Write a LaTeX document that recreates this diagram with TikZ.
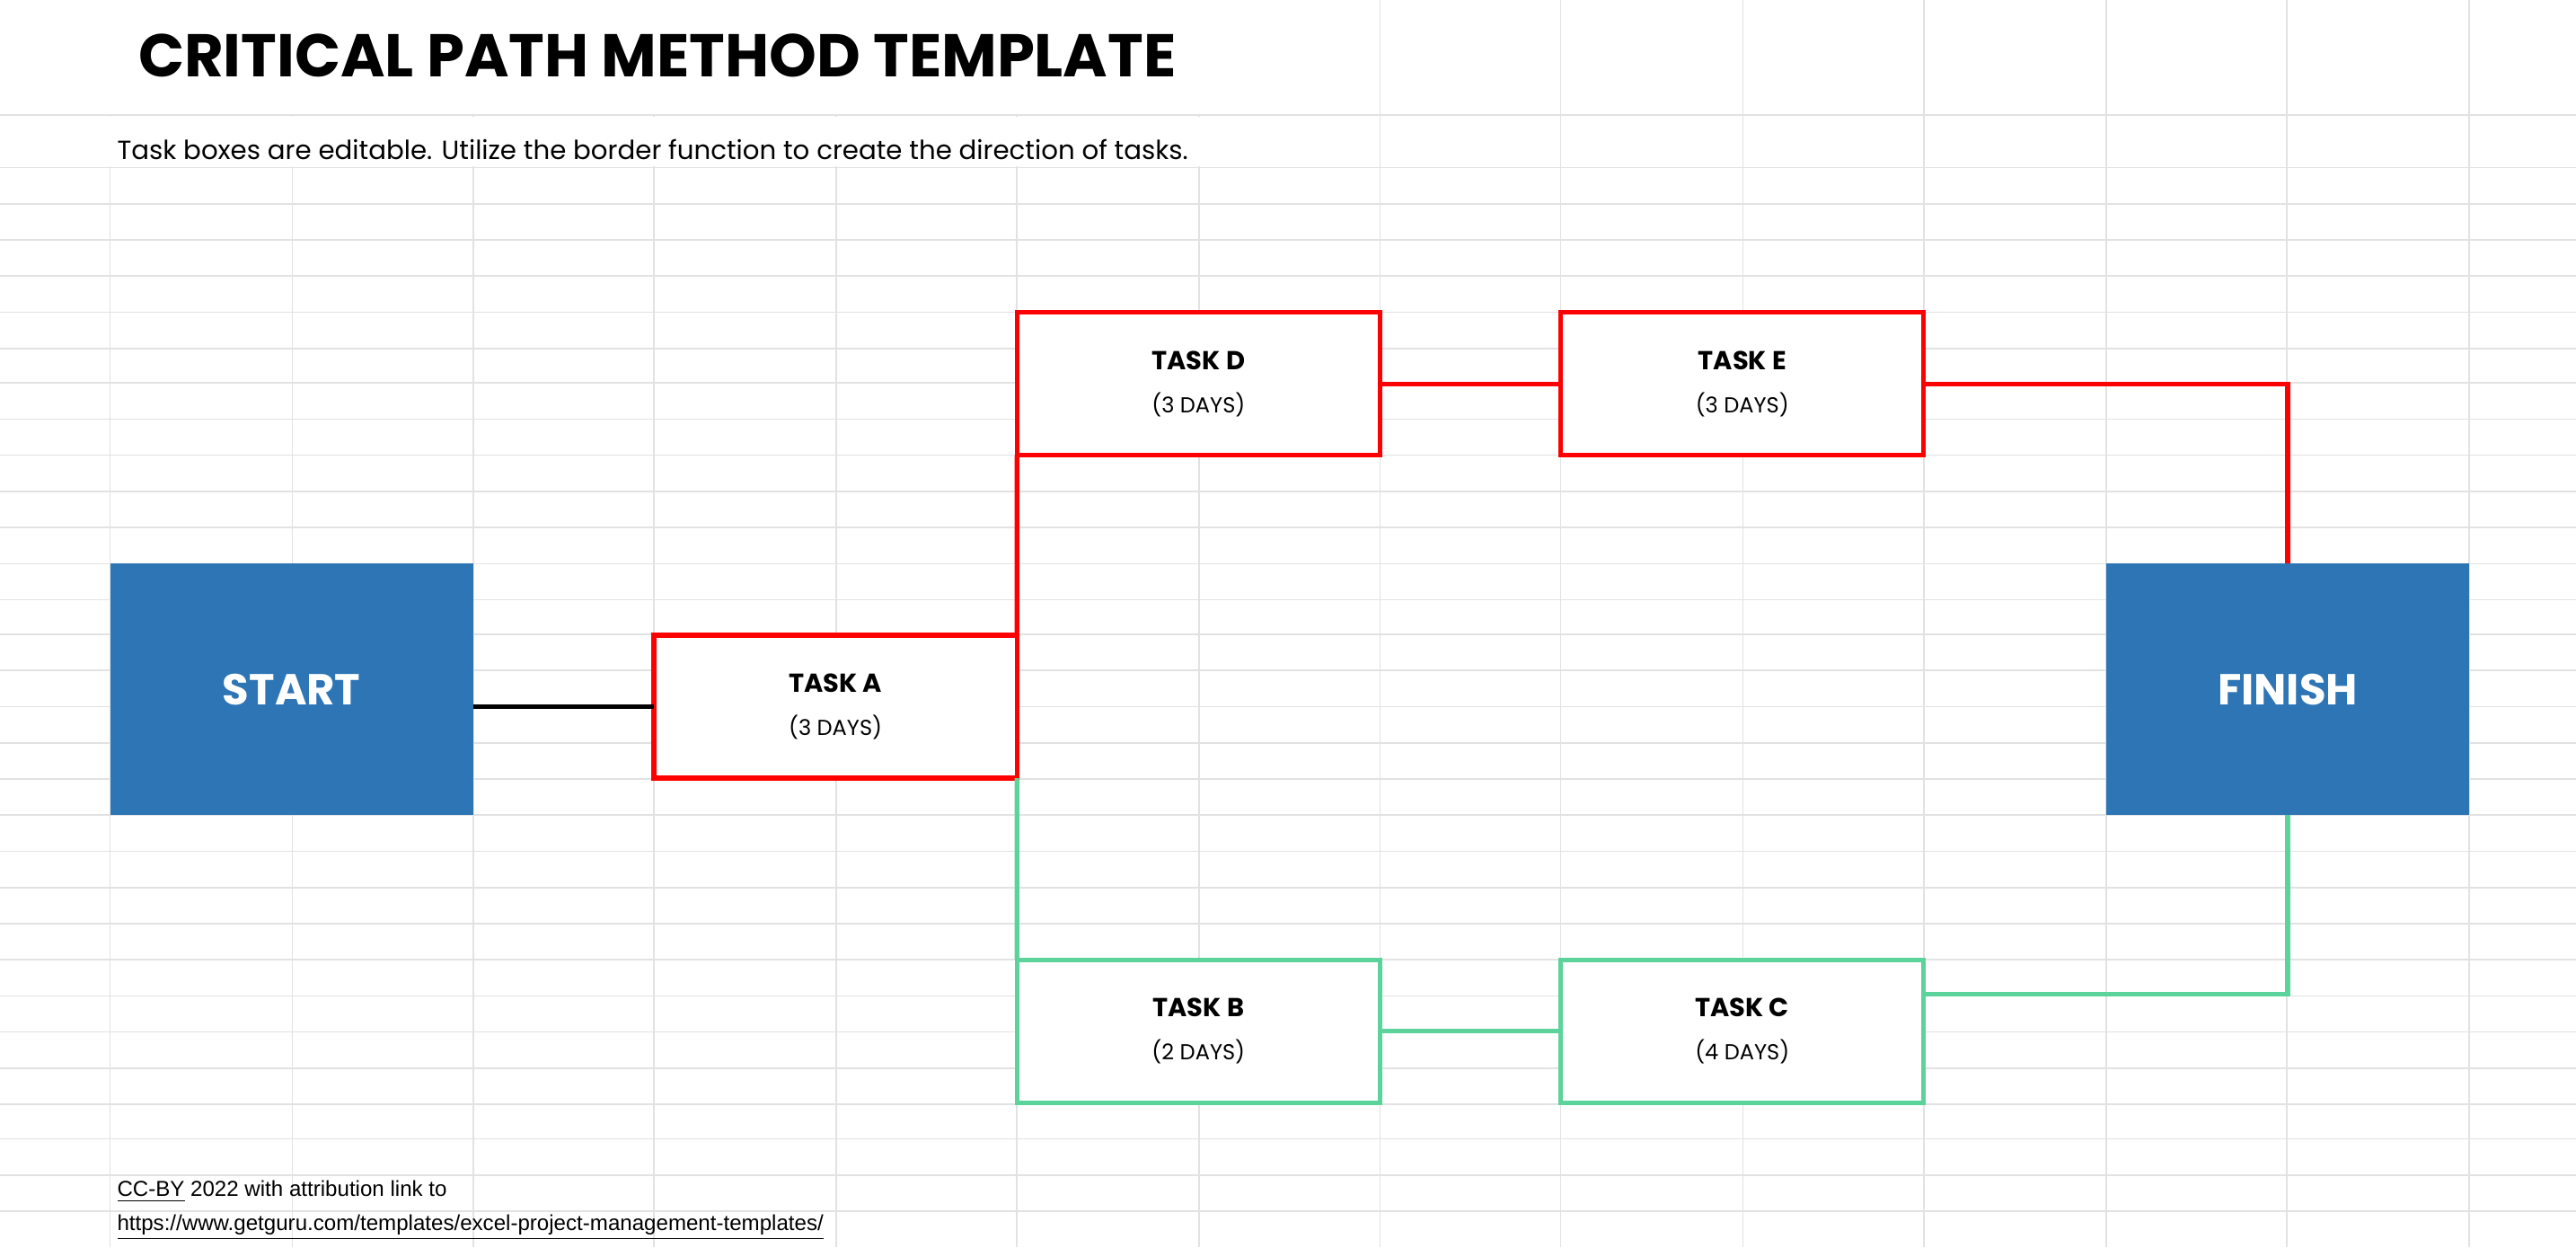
\documentclass[tikz,border=0pt]{standalone}
\usepackage{fontspec}
\setmainfont{Poppins}
\newfontfamily\footfont{Liberation Sans}
\usetikzlibrary{positioning}
\definecolor{gridgray}{HTML}{E2E2E2}
\definecolor{endblue}{HTML}{2E75B6}
\definecolor{critred}{HTML}{FF0000}
\definecolor{slackgreen}{HTML}{5CD39A}
\tikzset{
  endbox/.style={fill=endblue,text=white,minimum width=4.42cm,minimum height=3.06cm,
    font=\fontsize{15}{18}\selectfont\bfseries,inner sep=0pt,outer sep=0pt},
  taskbox/.style={fill=white,line width=1.6pt,minimum width=4.42cm,minimum height=1.74cm,
    align=center,font=\fontsize{9}{16}\selectfont,inner sep=0pt,outer sep=0pt},
  redbox/.style={taskbox,draw=critred},
  greenbox/.style={taskbox,draw=slackgreen},
  redline/.style={draw=critred,line width=1.6pt},
  greenline/.style={draw=slackgreen,line width=1.6pt},
}
\newcommand{\tasktext}[2]{\textbf{#1}\\[-1pt]{\fontsize{7.5}{9}\selectfont #2}}
\begin{document}
\begin{tikzpicture}[x=0.02cm,y=-0.02cm]
	\useasboundingbox (0,0) rectangle (1568,759);
	%grid
	\foreach \gy in {70,102,124,146,168,190,212,233,255,277,299,321,343,365,386,408,430,452,474,496,518,540,562,584,606,628,650,672,693,715,737}
		\draw[gridgray,line width=0.5pt] (0,\gy) -- (1568,\gy);
	\foreach \gx in {67,178,288,398,509,619,730}
		\draw[gridgray,line width=0.5pt] (\gx,70) -- (\gx,759);
	\foreach \gx in {840,950,1061,1171,1282,1392,1503}
		\draw[gridgray,line width=0.5pt] (\gx,0) -- (\gx,759);
	\fill[white] (0,0) rectangle (800,69);
	\fill[white] (0,71) rectangle (800,101);
	%texts
	\node[anchor=west,font=\fontsize{20.9}{24}\selectfont\bfseries] (title) at (78,34) {CRITICAL PATH METHOD TEMPLATE};
	\node[anchor=west,font=\fontsize{9.1}{11}\selectfont,inner sep=0pt] (note) at (71,91) {Task boxes are editable. Utilize the border function to create the direction of tasks.};
	\node[anchor=west,font=\footfont\fontsize{7.5}{10}\selectfont,inner sep=0pt] (lic) at (71,725) {\underline{CC-BY} 2022 with attribution link to};
	\node[anchor=west,font=\footfont\fontsize{7.5}{10}\selectfont,inner sep=0pt] (url) at (71,747) {\underline{https://www.getguru.com/templates/excel-project-management-templates/}};
	%boxes
	\node[endbox] (start) at (177.5,419.5) {START};
	\node[endbox] (finish) at (1392.5,419.5) {FINISH};
	\node[redbox] (taska) at (508.5,430) {\tasktext{TASK A}{(3 DAYS)}};
	\node[redbox] (taskd) at (729.5,233.5) {\tasktext{TASK D}{(3 DAYS)}};
	\node[redbox] (taske) at (1060.5,233.5) {\tasktext{TASK E}{(3 DAYS)}};
	\node[greenbox] (taskb) at (729.5,627.5) {\tasktext{TASK B}{(2 DAYS)}};
	\node[greenbox] (taskc) at (1060.5,627.5) {\tasktext{TASK C}{(4 DAYS)}};
	%connectors
	\draw[line width=1.6pt] (start.east |- taska.west) -- (taska.west);
	\draw[redline] (taska.north east) -- (taskd.south west);
	\draw[redline] (taskd.east) -- (taske.west);
	\draw[redline] (taske.east) -| (finish.north);
	\draw[greenline] (taska.south east) -- (taskb.north west);
	\draw[greenline] (taskb.east) -- (taskc.west);
	\coordinate (cout) at (1171,605);
	\draw[greenline] (cout) -| (finish.south);
\end{tikzpicture}
\end{document}
